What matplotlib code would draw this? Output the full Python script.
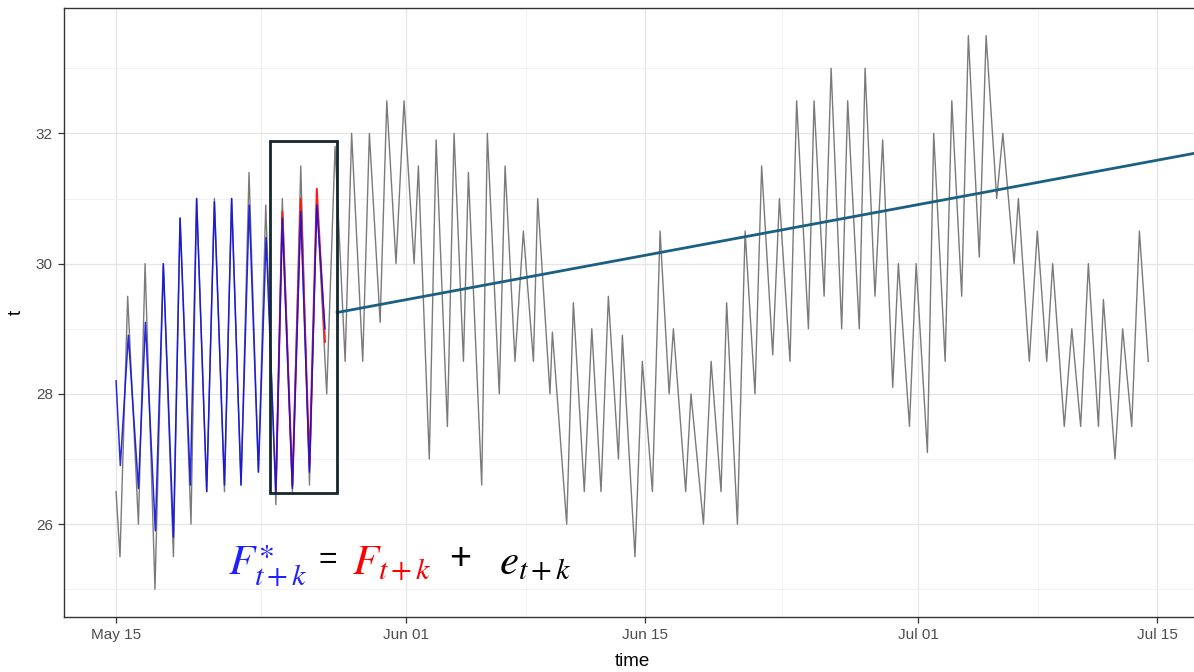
import numpy as np
import pandas as pd
import matplotlib
matplotlib.use("Agg")
import matplotlib.pyplot as plt
import matplotlib.dates as mdates
from matplotlib.patches import Rectangle

START = pd.Timestamp("2019-05-15")

# hourly temperature, kept as the daily turning points (days since start, value)
obs_day = [0.00, 0.23, 0.68, 1.31, 1.70, 2.28, 2.77, 3.36, 3.75, 4.39, 4.72, 5.31,
           5.76, 6.35, 6.77, 7.32, 7.79, 8.34, 8.77, 9.36, 9.74, 10.33, 10.82, 11.33,
           11.76, 12.34, 12.83, 13.42, 13.80, 14.45, 14.84, 15.47, 15.86, 16.40, 16.87,
           17.46, 17.71, 18.35, 18.75, 19.41, 19.80, 20.35, 20.64, 21.42, 21.75, 22.45,
           22.79, 23.37, 23.86, 24.45, 24.70, 25.42, 25.56, 26.40, 26.79, 27.43, 27.87,
           28.41, 28.84, 29.43, 29.66, 30.40, 30.83, 31.42, 31.87, 32.40, 32.65, 33.37,
           33.68, 34.41, 34.86, 35.44, 35.77, 36.40, 36.85, 37.43, 37.82, 38.47, 38.86,
           39.48, 39.87, 40.56, 40.89, 41.48, 41.89, 42.51, 42.86, 43.54, 43.88, 44.46,
           44.91, 45.50, 45.83, 46.48, 46.87, 47.53, 47.90, 48.57, 48.96, 49.54, 49.93,
           50.57, 50.97, 51.59, 51.95, 52.61, 52.86, 53.50, 53.97, 54.52, 54.87, 55.55,
           55.99, 56.51, 56.96, 57.55, 57.84, 58.52, 58.97, 59.50, 59.95, 60.47]
obs_temp = [26.5, 25.5, 29.5, 26.0, 30.0, 25.0, 30.0, 25.5, 30.7, 26.0, 31.0, 26.5,
            31.0, 26.5, 31.0, 26.6, 31.4, 26.8, 30.9, 26.3, 31.0, 26.5, 31.5, 26.6,
            31.0, 28.0, 31.8, 28.5, 32.0, 28.5, 32.0, 29.1, 32.5, 30.0, 32.5,
            30.0, 31.5, 27.0, 31.9, 27.5, 32.0, 28.5, 31.4, 26.6, 32.0, 28.0,
            31.5, 28.5, 30.5, 28.5, 31.0, 28.0, 28.95, 26.0, 29.4, 26.5, 29.0,
            26.5, 29.5, 27.0, 28.9, 25.5, 28.5, 26.5, 30.5, 28.0, 29.0, 26.5,
            28.0, 26.0, 28.5, 26.5, 29.4, 26.0, 30.5, 28.0, 31.5, 28.6, 31.0,
            28.5, 32.5, 29.0, 32.5, 29.5, 33.0, 29.0, 32.5, 29.0, 33.0, 29.5,
            31.9, 28.1, 30.0, 27.5, 30.0, 27.1, 32.0, 28.5, 32.5, 29.5, 33.5,
            30.1, 33.5, 31.0, 32.0, 30.0, 31.0, 28.5, 30.5, 28.5, 30.0, 27.5,
            29.0, 27.5, 30.0, 27.5, 29.45, 27.0, 29.0, 27.5, 30.5, 28.5]

# fitted values F*
fit_day = [0.00, 0.25, 0.72, 1.31, 1.72, 2.30, 2.77, 3.36, 3.75, 4.35, 4.72, 5.31, 5.76,
           6.35, 6.77, 7.32, 7.80, 8.34, 8.79, 9.36, 9.74, 10.33, 10.82, 11.33, 11.76, 12.24]
fit_temp = [28.2, 26.9, 28.9, 26.55, 29.1, 25.9, 30.0, 25.8, 30.7, 26.6, 31.0, 26.5, 30.95,
            26.6, 31.0, 26.6, 30.9, 26.8, 30.4, 26.5, 30.7, 26.55, 30.8, 26.8, 30.9, 29.0]

# forecast F inside the window
fc_day = [9.36, 9.74, 10.33, 10.82, 11.33, 11.76, 12.24]
fc_temp = [26.5, 30.8, 26.6, 31.0, 26.9, 31.15, 28.8]

# trend projected from the end of the window
trend_day = [12.95, 63.5]
trend_temp = [29.25, 31.71]

window_day = [9.02, 12.95]
window_temp = [26.48, 31.89]

tick_dates = ["2019-05-15", "2019-06-01", "2019-06-15", "2019-07-01", "2019-07-15"]
minor_dates = ["2019-05-23 12:00", "2019-06-08 00:00", "2019-06-23 00:00", "2019-07-08 00:00"]


def to_dates(days):
    return START + pd.to_timedelta(np.asarray(days), unit="D")


plt.rcParams["font.family"] = ["Liberation Sans", "DejaVu Sans"]
plt.rcParams["mathtext.fontset"] = "stix"

W, H = 1194, 672
fig = plt.figure(figsize=(W / 100, H / 100), dpi=100)
ax = fig.add_axes([64 / W, 55 / H, 1136 / W, 609 / H])

ax.plot(to_dates(obs_day), obs_temp, color="#7a7a7a", lw=1.0, zorder=3)
ax.plot(to_dates(fc_day), fc_temp, color="#ff1a1a", lw=1.4, zorder=4)
ax.plot(to_dates(fit_day), fit_temp, color="#1010e0", lw=1.1, alpha=0.9, zorder=5)
ax.plot(to_dates(trend_day), trend_temp, color="#1b6083", lw=2.0, zorder=6)

x0 = mdates.date2num(to_dates([window_day[0]])[0])
x1 = mdates.date2num(to_dates([window_day[1]])[0])
ax.add_patch(Rectangle((x0, window_temp[0]), x1 - x0, window_temp[1] - window_temp[0],
                       fill=False, ec="#14262f", lw=2.0, zorder=7))

ax.set_xlim(to_dates([-3.05])[0], to_dates([63.5])[0])
ax.set_ylim(24.575, 33.925)

ax.set_xticks(pd.to_datetime(tick_dates))
ax.set_xticks(pd.to_datetime(minor_dates), minor=True)
ax.xaxis.set_major_formatter(mdates.DateFormatter("%b %d"))
ax.set_yticks([26, 28, 30, 32])
ax.set_yticks([25, 27, 29, 31, 33], minor=True)

ax.grid(True, which="major", color="#e6e6e6", lw=1.0, zorder=0)
ax.grid(True, which="minor", color="#f0f0f0", lw=0.6, zorder=0)
ax.set_axisbelow(True)

for s in ax.spines.values():
    s.set_color("#333333")
    s.set_linewidth(1.0)
ax.tick_params(which="major", length=4, width=0.9, color="#333333",
               labelsize=11, labelcolor="#4d4d4d", pad=4)
ax.tick_params(which="minor", length=0)

ax.set_xlabel("time", fontsize=13.5, labelpad=8)
ax.set_ylabel("t", fontsize=13.5, labelpad=8)

# equation under the window
fs = 31
fig.text(228 / W, 1 - 574 / H, r"$F^{\ast}_{t+k}$", color="#1f1fff", fontsize=fs)
fig.text(318 / W, 1 - 568 / H, "=", color="black", fontsize=23)
fig.text(352 / W, 1 - 574 / H, r"$F_{t+k}$", color="#ff0000", fontsize=fs)
fig.text(449 / W, 1 - 569 / H, "+", color="black", fontsize=27)
fig.text(499 / W, 1 - 574 / H, r"$e_{t+k}$", color="black", fontsize=fs)

fig.savefig("out.png", dpi=100)
